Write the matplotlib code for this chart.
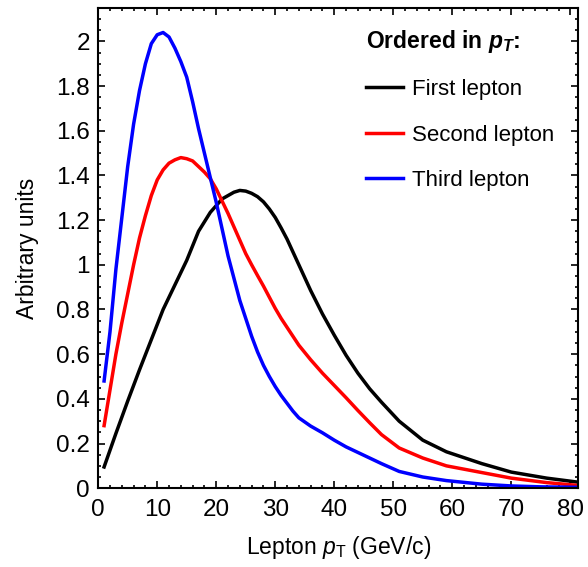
import numpy as np
from matplotlib import pyplot as plt
from matplotlib.ticker import MultipleLocator, FuncFormatter

plt.rcParams['font.family'] = ['Liberation Sans', 'DejaVu Sans']
plt.rcParams['mathtext.fontset'] = 'custom'
plt.rcParams['mathtext.rm'] = 'Liberation Sans'
plt.rcParams['mathtext.it'] = 'Liberation Sans:italic'
plt.rcParams['mathtext.bf'] = 'Liberation Sans:bold'
plt.rcParams['mathtext.bfit'] = 'Liberation Sans:bold:italic'

# lepton pT spectra
pt_first = [1, 3, 5, 7, 9, 11, 13, 15, 17, 19, 21, 23, 24, 25, 26, 27, 28, 29, 30, 31,
            32, 34, 36, 38, 40, 42, 44, 46, 48, 51, 55, 59, 65, 70, 76, 81]
y_first = [0.095, 0.245, 0.39, 0.53, 0.665, 0.80, 0.91, 1.02, 1.15, 1.235, 1.295, 1.325,
           1.333, 1.33, 1.32, 1.305, 1.282, 1.25, 1.212, 1.165, 1.115, 1.0, 0.885, 0.78,
           0.685, 0.595, 0.515, 0.445, 0.385, 0.30, 0.215, 0.163, 0.11, 0.072, 0.045,
           0.028]

pt_second = [1, 2, 3, 4, 5, 6, 7, 8, 9, 10, 11, 12, 13, 14, 15, 16, 17, 18, 19, 20, 21,
             22, 23, 24, 25, 26, 27, 28, 29, 30, 31, 32, 33, 34, 36, 38, 40, 42, 44, 46,
             48, 51, 55, 59, 65, 70, 76, 81]
y_second = [0.28, 0.44, 0.60, 0.74, 0.87, 1.00, 1.12, 1.22, 1.31, 1.38, 1.425, 1.455,
            1.47, 1.48, 1.475, 1.465, 1.44, 1.415, 1.385, 1.34, 1.285, 1.23, 1.17, 1.11,
            1.05, 1.0, 0.952, 0.905, 0.855, 0.805, 0.76, 0.72, 0.68, 0.64, 0.575, 0.515,
            0.46, 0.405, 0.348, 0.293, 0.24, 0.18, 0.135, 0.10, 0.07, 0.045, 0.025, 0.013]

pt_third = [1, 2, 3, 4, 5, 6, 7, 8, 9, 10, 11, 12, 13, 14, 15, 16, 17, 18, 19, 20, 21,
            22, 23, 24, 25, 26, 27, 28, 29, 30, 31, 32, 33, 34, 36, 38, 40, 42, 44, 46,
            48, 51, 55, 59, 65, 70, 75, 81]
y_third = [0.48, 0.70, 0.98, 1.21, 1.44, 1.63, 1.78, 1.90, 1.99, 2.03, 2.04, 2.02, 1.97,
           1.91, 1.84, 1.73, 1.61, 1.50, 1.39, 1.28, 1.16, 1.04, 0.94, 0.84, 0.76, 0.68,
           0.61, 0.55, 0.50, 0.455, 0.415, 0.38, 0.345, 0.315, 0.278, 0.248, 0.215, 0.185,
           0.16, 0.135, 0.11, 0.075, 0.05, 0.034, 0.018, 0.01, 0.006, 0.004]

labels = ['First lepton', 'Second lepton', 'Third lepton']
colors = ['black', 'red', 'blue']

fig = plt.figure(figsize=(5.88, 5.67), dpi=100)
ax = fig.add_axes([0.167, 0.139, 0.816, 0.847])

for xs, ys, lab, c in zip([pt_first, pt_second, pt_third],
                          [y_first, y_second, y_third], labels, colors):
    ax.plot(xs, ys, color=c, lw=2.5, label=lab)

ax.set_xlim(0, 81.3)
ax.set_ylim(0, 2.15)
ax.xaxis.set_major_locator(MultipleLocator(10))
ax.xaxis.set_minor_locator(MultipleLocator(2))
ax.yaxis.set_major_locator(MultipleLocator(0.2))
ax.yaxis.set_minor_locator(MultipleLocator(0.05))
ax.yaxis.set_major_formatter(FuncFormatter(lambda v, p: '%g' % round(v, 2)))

ax.tick_params(which='both', direction='in', top=True, right=True, width=1.2)
ax.tick_params(which='major', length=5, labelsize=17.5)
ax.tick_params(which='minor', length=2.5)
ax.tick_params(axis='x', pad=8)
ax.tick_params(axis='y', pad=6)
for s in ax.spines.values():
    s.set_linewidth(1.5)

ax.set_xlabel(r'Lepton $p_{\mathrm{T}}$ (GeV/c)', fontsize=16.5, labelpad=9)
ax.set_ylabel('Arbitrary units', fontsize=16.5, labelpad=12)

leg = ax.legend(loc='upper left', bbox_to_anchor=(0.535, 0.982), frameon=False,
                title=r'Ordered in $\mathbfit{p}_{\mathbfit{T}}$:',
                title_fontproperties={'weight': 'bold', 'size': 16.5},
                fontsize=16, handlelength=1.67, handletextpad=0.4,
                labelspacing=1.1, borderpad=0, alignment='left')

fig.savefig('out.png', dpi=100)
